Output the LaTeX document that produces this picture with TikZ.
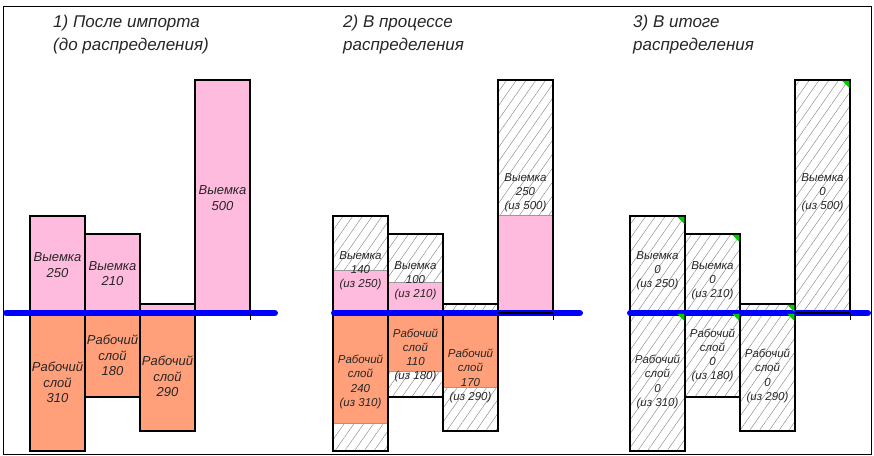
\documentclass[tikz,border=0pt]{standalone}
\usepackage{fontspec}
\setmainfont{Liberation Sans}
\usetikzlibrary{patterns.meta}
\definecolor{cutpink}{RGB}{255,187,221}
\definecolor{laysalmon}{RGB}{255,160,122}
\definecolor{donegreen}{RGB}{0,204,0}
\tikzset{
  col/.style={draw=black,line width=1.5pt},
  hatch/.style={pattern={Lines[angle=55,distance=8pt,line width=.4pt]},pattern color=black!50},
  split/.style={draw=black!40,line width=.5pt},
  zero/.style={blue,line width=6.5pt,line cap=round},
  big/.style={font=\itshape\fontsize{13}{15.5}\selectfont,align=center,inner sep=0pt,text=black!85},
  small/.style={font=\itshape\fontsize{11.5}{14.2}\selectfont,align=center,inner sep=0pt,text=black!85},
  title/.style={font=\itshape\fontsize{17}{23}\selectfont,align=left,anchor=north west,inner sep=0pt,text=black!85},
  done/.style={fill=donegreen}
}
\begin{document}
\begin{tikzpicture}[x=1pt,y=-1pt]
  \useasboundingbox (0,0) rectangle (874,455);
  \draw[line width=.9pt] (3,6) rectangle (871,454);
  % titles
  \node[title] (title1) at (53,15) {1) После импорта\\(до распределения)};
  \node[title] (title2) at (343,15) {2) В процессе\\распределения};
  \node[title] (title3) at (633,15) {3) В итоге\\распределения};

  % 1) after import
  \begin{scope}[shift={(30,0)}]
    \foreach \xa/\xb/\t in {0/55/216,55/110/234,110/165/304,165/220/80}
      \draw[col,fill=cutpink] (\xa,\t) rectangle (\xb,313);
    \foreach \xa/\xb/\b in {0/55/451,55/110/397,110/165/431}
      \draw[col,fill=laysalmon] (\xa,313) rectangle (\xb,\b);
    \draw[zero] (-23.75,313) -- (244.75,313);
    \draw[thin] (220,313) -- (220,320);
    \node[big] (cutA1) at (27.5,265) {Выемка\\250};
    \node[big] (cutA2) at (82.5,273.5) {Выемка\\210};
    \node[big] (cutA4) at (192.5,198) {Выемка\\500};
    \node[big] (layA1) at (27.5,382.5) {Рабочий\\слой\\310};
    \node[big] (layA2) at (82.5,355.5) {Рабочий\\слой\\180};
    \node[big] (layA3) at (137.5,376.5) {Рабочий\\слой\\290};
  \end{scope}

  % 2) in progress
  \begin{scope}[shift={(333,0)}]
    \foreach \xa/\xb/\t/\f in {0/55/216/270,55/110/234/282,110/165/304/313,165/220/80/215} {
      \fill[hatch] (\xa,\t) rectangle (\xb,\f);
      \fill[cutpink] (\xa,\f) rectangle (\xb,313);
      \draw[split] (\xa,\f) -- (\xb,\f);
    }
    \foreach \xa/\xb/\b/\f in {0/55/451/423,55/110/397/371,110/165/431/387} {
      \fill[laysalmon] (\xa,313) rectangle (\xb,\f);
      \fill[hatch] (\xa,\f) rectangle (\xb,\b);
      \draw[split] (\xa,\f) -- (\xb,\f);
    }
    \foreach \xa/\xb/\t in {0/55/216,55/110/234,110/165/304,165/220/80}
      \draw[col] (\xa,\t) rectangle (\xb,313);
    \foreach \xa/\xb/\b in {0/55/451,55/110/397,110/165/431}
      \draw[col] (\xa,313) rectangle (\xb,\b);
    \draw[zero] (1.25,313) -- (246.75,313);
    \draw[line width=1.2pt] (165,313) -- (220,313);
    \draw[thin] (220,313) -- (220,320);
    \node[small] (cutB1) at (27.5,271) {Выемка\\140\\(из 250)};
    \node[small] (cutB2) at (82.5,280.5) {Выемка\\100\\(из 210)};
    \node[small] (cutB4) at (192.5,193) {Выемка\\250\\(из 500)};
    \node[small] (layB1) at (27.5,382) {Рабочий\\слой\\240\\(из 310)};
    \node[small] (layB2) at (82.5,355.5) {Рабочий\\слой\\110\\(из 180)};
    \node[small] (layB3) at (137.5,376) {Рабочий\\слой\\170\\(из 290)};
  \end{scope}

  % 3) final
  \begin{scope}[shift={(630,0)}]
    \foreach \xa/\xb/\t in {0/55/216,55/110/234,110/165/304,165/220/80}
      \draw[col,hatch] (\xa,\t) rectangle (\xb,313);
    \foreach \xa/\xb/\b in {0/55/451,55/110/397,110/165/431}
      \draw[col,hatch] (\xa,313) rectangle (\xb,\b);
    \draw[zero] (0.25,313) -- (237.75,313);
    \draw[line width=1.2pt] (165,313) -- (220,313);
    \draw[thin] (220,313) -- (220,320);
    \foreach \x/\y in {55/216,110/234,220/80,165/304,55/313,110/313,165/313}
      \fill[done] (\x-8,\y+.75) -- (\x-.75,\y+.75) -- (\x-.75,\y+8) -- cycle;
    \node[small] (cutC1) at (27.5,271) {Выемка\\0\\(из 250)};
    \node[small] (cutC2) at (82.5,280.5) {Выемка\\0\\(из 210)};
    \node[small] (cutC4) at (192.5,193) {Выемка\\0\\(из 500)};
    \node[small] (layC1) at (27.5,382) {Рабочий\\слой\\0\\(из 310)};
    \node[small] (layC2) at (82.5,355.5) {Рабочий\\слой\\0\\(из 180)};
    \node[small] (layC3) at (137.5,376) {Рабочий\\слой\\0\\(из 290)};
  \end{scope}
\end{tikzpicture}
\end{document}
